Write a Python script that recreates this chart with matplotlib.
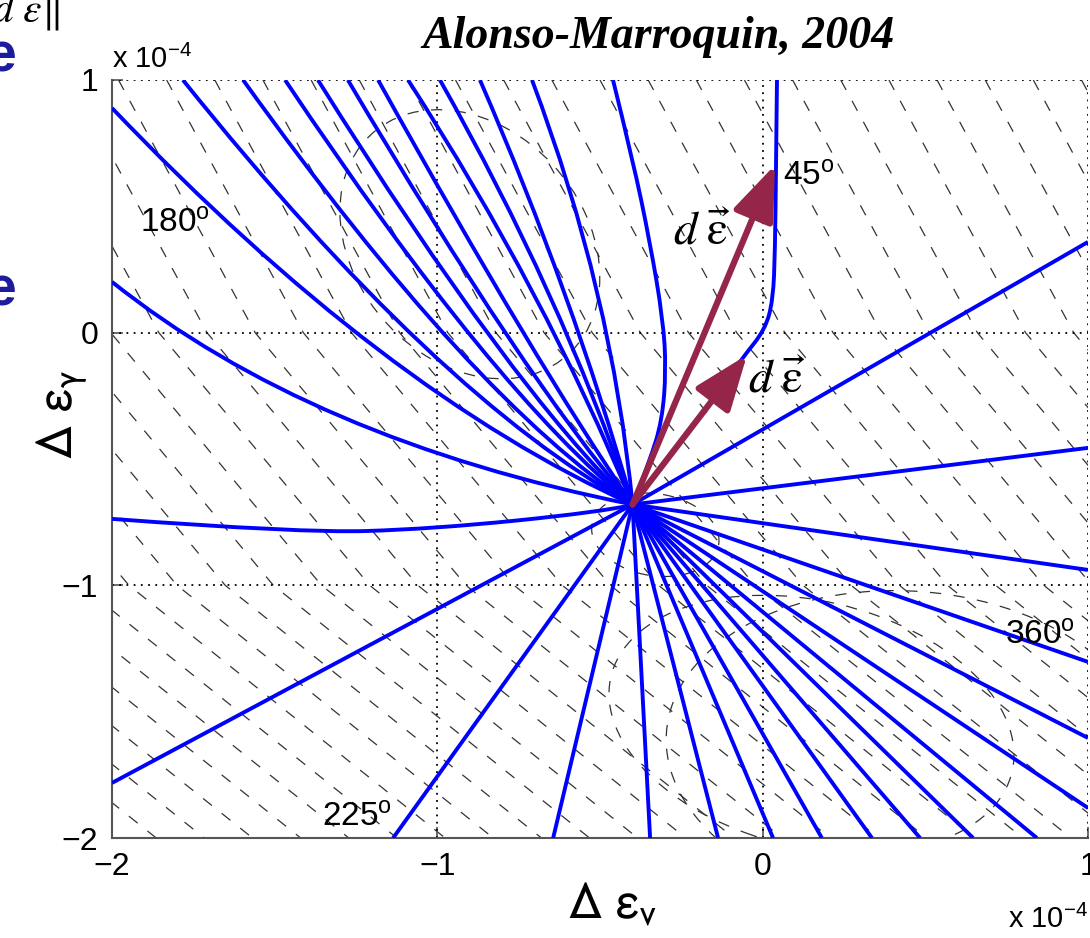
import numpy as np
import matplotlib
matplotlib.use('Agg')
import matplotlib.pyplot as plt
from matplotlib.path import Path
from matplotlib.patches import PathPatch, Ellipse

plt.rcParams['font.family'] = ['Liberation Sans', 'DejaVu Sans']
plt.rcParams['mathtext.fontset'] = 'custom'
plt.rcParams['mathtext.rm'] = 'Liberation Sans'
plt.rcParams['mathtext.it'] = 'Liberation Sans:italic'

# strain increments in units of 1e-4
origin = (-0.40, -0.68)

# straight response branches: end points on the frame
straight_end_x = [-2.0, -1.136, -0.644, -0.346, -0.137, 0.032, 0.182, 0.336, 0.484, 0.647, 0.843,
                  1.0, 1.0, 1.0, 1.0, 1.0, 1.0]
straight_end_y = [-1.782, -2.0, -2.0, -2.0, -2.0, -2.0, -2.0, -2.0, -2.0, -2.0, -2.0,
                  -1.881, -1.604, -1.303, -0.939, -0.456, 0.359]

# bent branches towards the upper left: (control, end)
bent_ctrl_x = [-1.391, -1.167, -1.001, -0.893, -0.826, -0.772, -0.731, -0.697, -0.669, -0.623, -0.586, -0.463]
bent_ctrl_y = [-0.425, -0.235, -0.255, -0.266, -0.239, -0.225, -0.187, -0.124, 0.161, 0.161, 0.161, 0.161]
bent_end_x = [-2.0, -2.0, -1.782, -1.597, -1.468, -1.367, -1.275, -1.182, -1.090, -0.992, -0.869, -0.709]
bent_end_y = [0.201, 0.889, 1.0, 1.0, 1.0, 1.0, 1.0, 1.0, 1.0, 1.0, 1.0, 1.0]

# branches with several bends
s_branch_x = [-0.399, -0.346, -0.309, -0.297, -0.306, -0.346, -0.399, -0.460]
s_branch_y = [-0.682, -0.504, -0.346, -0.148, 0.050, 0.355, 0.683, 1.0]
kink_branch_x = [-0.399, -0.223, -0.060, 0.007, 0.032, 0.038, 0.041, 0.044]
kink_branch_y = [-0.682, -0.385, -0.096, 0.011, 0.129, 0.327, 0.656, 1.0]
sag_branch_x = [-0.399, -0.500, -1.013, -1.422, -2.0]
sag_branch_y = [-0.682, -0.710, -0.777, -0.793, -0.737]

# strain increment arrows (tips)
arrow_tip_x = [0.038, -0.048]
arrow_tip_y = [0.664, -0.088]

# background dashed field
band_levels = [1.0, 0.0, -1.0, -2.0]
band_shift = [0.42, 0.648, 0.972]
field_spacing = 0.148
ell_cx = [-0.33, 0.15, 0.45, -0.90]
ell_cy = [-0.80, -1.55, -1.65, 0.35]
ell_w = [0.40, 1.30, 1.50, 0.75]
ell_h = [0.32, 0.95, 1.25, 1.10]
ell_ang = [-20, -25, -10, 20]

degree_labels = ['180', '45', '360', '225']
degree_x = [-1.914, 0.063, 0.745, -1.354]
degree_y = [0.398, 0.584, -1.236, -1.956]

blue = '#0000ff'
arrow_col = '#952649'


def branch_path(xs, ys):
    pts = list(zip(xs, ys))
    if len(pts) == 2:
        return Path(pts, [Path.MOVETO, Path.LINETO])
    verts = [pts[0]]
    codes = [Path.MOVETO]
    for i in range(1, len(pts) - 1):
        if i < len(pts) - 2:
            nxt = ((pts[i][0] + pts[i + 1][0]) / 2, (pts[i][1] + pts[i + 1][1]) / 2)
        else:
            nxt = pts[i + 1]
        verts += [pts[i], nxt]
        codes += [Path.CURVE3, Path.CURVE3]
    return Path(verts, codes)


fig = plt.figure(figsize=(10.9, 9.38), dpi=100)
ax = fig.add_axes([112 / 1090, 1 - 838 / 938, 976 / 1090, 758 / 938])
ax.set_xlim(-2, 1)
ax.set_ylim(-2, 1)

# dashed background field
offsets = np.cumsum([0] + band_shift)
for x0 in np.arange(-4.2, 1.1, field_spacing):
    ax.plot(x0 + offsets, band_levels, color='#333333', lw=0.9, ls=(0, (9, 10)), zorder=1)
for cx, cy, w, h, a in zip(ell_cx, ell_cy, ell_w, ell_h, ell_ang):
    ax.add_patch(Ellipse((cx, cy), w, h, angle=a, fill=False, ec='#333333', lw=0.9,
                         ls=(0, (9, 10)), zorder=1))

# grid
for v in [-2, -1, 0, 1]:
    ax.axhline(v, color='k', lw=1.3, ls=(0, (1, 3)), zorder=2)
    ax.axvline(v, color='k', lw=1.3, ls=(0, (1, 3)), zorder=2)

# response branches
for ex, ey in zip(straight_end_x, straight_end_y):
    ax.add_patch(PathPatch(branch_path([origin[0], ex], [origin[1], ey]), fc='none', ec=blue, lw=2.8, zorder=3))
for cx, cy, ex, ey in zip(bent_ctrl_x, bent_ctrl_y, bent_end_x, bent_end_y):
    ax.add_patch(PathPatch(branch_path([origin[0], cx, ex], [origin[1], cy, ey]), fc='none', ec=blue, lw=2.8, zorder=3))
for xs, ys in [(s_branch_x, s_branch_y), (kink_branch_x, kink_branch_y), (sag_branch_x, sag_branch_y)]:
    ax.add_patch(PathPatch(branch_path(xs, ys), fc='none', ec=blue, lw=2.8, zorder=3))

# arrows
for tx, ty in zip(arrow_tip_x, arrow_tip_y):
    ax.annotate('', xy=(tx, ty), xytext=origin,
                arrowprops=dict(arrowstyle='-|>,head_length=1.7,head_width=0.65', lw=4.5,
                                color=arrow_col, shrinkA=0, shrinkB=0, mutation_scale=20),
                zorder=5)

eps_vec = r'$d\;\vec{\mathrm{\varepsilon}}$'
ax.text(-0.275, 0.347, eps_vec, fontsize=34, math_fontfamily='stix', zorder=6)
ax.text(-0.045, -0.235, eps_vec, fontsize=34, math_fontfamily='stix', zorder=6)

for lab, x, y in zip(degree_labels, degree_x, degree_y):
    ax.text(x, y, lab + r'$^{\rm o}$', fontsize=24, va='baseline', zorder=6)

for side in ['top', 'right']:
    ax.spines[side].set_visible(False)
for side in ['left', 'bottom']:
    ax.spines[side].set_color('#555555')
    ax.spines[side].set_linewidth(1.5)
ax.set_xticks([-2, -1, 0, 1])
ax.set_yticks([-2, -1, 0, 1])
ax.tick_params(direction='in', length=8, width=1.2, color='#555555', labelsize=23, pad=10)

fig.text(112 / 1090, 1 - 68 / 938, r'x 10$^{-4}$', fontsize=21, va='baseline')
fig.text(1088 / 1090, 1 - 928 / 938, r'x 10$^{-4}$', fontsize=21, va='baseline', ha='right')
fig.text(612 / 1090, 1 - 918 / 938, r'$\Delta\ \mathrm{\varepsilon}_{\mathrm{v}}$', fontsize=38,
         ha='center', va='baseline', math_fontfamily='stixsans')
fig.text(62 / 1090, 1 - 415 / 938, r'$\Delta\ \mathrm{\varepsilon}_{\mathrm{\gamma}}$', fontsize=38,
         ha='center', va='center', rotation=90, math_fontfamily='stixsans')
fig.text(658 / 1090, 1 - 48 / 938, 'Alonso-Marroquin, 2004', fontsize=33, ha='center',
         va='baseline', family='Liberation Serif', weight='bold', style='italic')

# slide text running in from the left edge
fig.text(-8 / 1090, 1 - 22 / 938, r'$d\ \varepsilon\|$', fontsize=30, va='baseline', math_fontfamily='stix')
fig.text(-14 / 1090, 1 - 72 / 938, 'e', fontsize=40, weight='bold', color='#1c1c9c', va='baseline')
fig.text(-14 / 1090, 1 - 305 / 938, 'e', fontsize=40, weight='bold', color='#1c1c9c', va='baseline')

fig.savefig('out.png', dpi=100)
